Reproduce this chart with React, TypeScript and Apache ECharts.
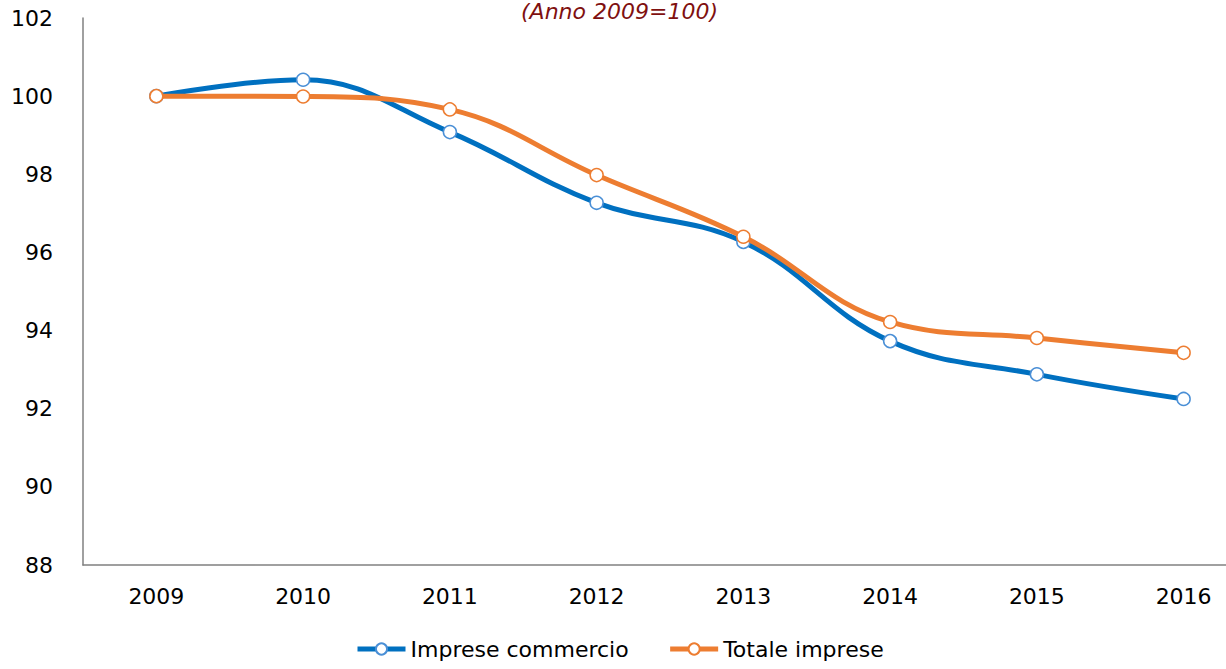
import React, { useEffect, useRef } from "react";
import * as echarts from "echarts";

const years = ["2009", "2010", "2011", "2012", "2013", "2014", "2015", "2016"];
const impreseCommercio = [100, 100.42, 99.08, 97.27, 96.27, 93.73, 92.88, 92.25];
const totaleImprese = [100, 99.99, 99.66, 97.98, 96.4, 94.22, 93.81, 93.43];
const subtitle = "(Anno 2009=100)";
const FONT = "DejaVu Sans";

export default function App() {
  const ref = useRef<HTMLDivElement>(null);
  useEffect(() => {
    if (!ref.current) return;
    const chart = echarts.init(ref.current, null, { renderer: "svg" });
    chart.setOption({
      animation: false,
      backgroundColor: "#ffffff",
      textStyle: { fontFamily: FONT },
      graphic: [
        {
          type: "text",
          left: 521,
          top: 0,
          style: {
            text: subtitle,
            font: `italic 22px "${FONT}"`,
            fill: "#7f1010",
          },
        },
      ],
      grid: { left: 83, top: 18, bottom: 104, right: 0 },
      legend: {
        left: 350,
        top: 633,
        itemWidth: 48,
        itemHeight: 14,
        itemGap: 39,
        lineStyle: { width: 5 },
        textStyle: { fontSize: 22, color: "#000", fontFamily: FONT },
        data: ["Imprese commercio", "Totale imprese"],
      },
      xAxis: {
        type: "category",
        data: years,
        boundaryGap: true,
        axisLine: { lineStyle: { color: "#808080", width: 1.5 } },
        axisTick: { show: false },
        axisLabel: { fontSize: 22, color: "#000", margin: 20, fontFamily: FONT },
      },
      yAxis: {
        type: "value",
        min: 88,
        max: 102,
        interval: 2,
        splitLine: { show: false },
        axisLine: { show: true, lineStyle: { color: "#808080", width: 1.5 } },
        axisTick: { show: false },
        axisLabel: { fontSize: 22, color: "#000", margin: 30, fontFamily: FONT },
      },
      series: [
        {
          name: "Imprese commercio",
          type: "line",
          data: impreseCommercio,
          smooth: 0.4,
          symbol: "circle",
          symbolSize: 13,
          lineStyle: { color: "#0070c0", width: 5 },
          itemStyle: { color: "#ffffff", borderColor: "#4a8fd6", borderWidth: 1.5 },
          color: "#0070c0",
          z: 2,
        },
        {
          name: "Totale imprese",
          type: "line",
          data: totaleImprese,
          smooth: 0.4,
          symbol: "circle",
          symbolSize: 13,
          lineStyle: { color: "#ed7d31", width: 5 },
          itemStyle: { color: "#ffffff", borderColor: "#ed7d31", borderWidth: 1.5 },
          color: "#ed7d31",
          z: 3,
        },
      ],
    });
    return () => chart.dispose();
  }, []);
  return (
    <div
      style={{
        position: "fixed",
        left: 0,
        top: 0,
        width: 1226,
        height: 669,
        overflow: "hidden",
      }}
    >
      <div ref={ref} style={{ width: 1257, height: 669 }} />
    </div>
  );
}
